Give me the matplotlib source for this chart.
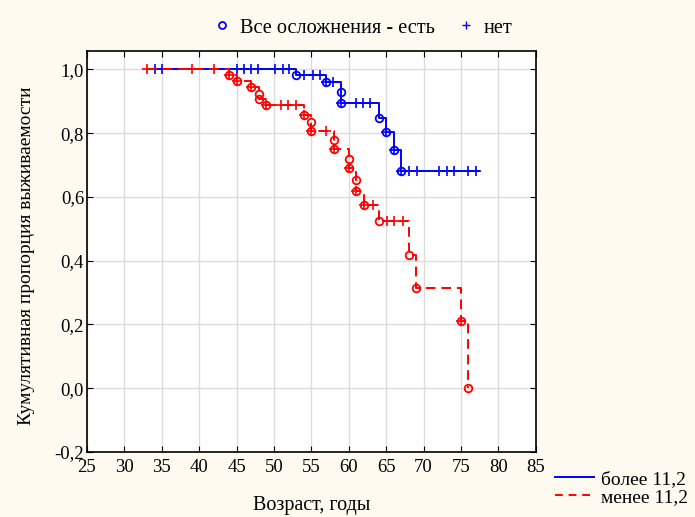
import matplotlib
matplotlib.use("Agg")
from matplotlib import pyplot as plt
from matplotlib.lines import Line2D
from matplotlib.ticker import FuncFormatter, MultipleLocator

# группа "более 11,2"
hi_start, hi_end = 34.1, 77.4
hi_event_t = [53, 57, 59, 59, 64, 65, 66, 67]
hi_event_s = [0.982, 0.961, 0.929, 0.895, 0.848, 0.804, 0.748, 0.682]
hi_cens_t = [34.1, 35.1, 45, 46, 46.9, 47.9, 50.1, 51.2, 52,
             54, 55.2, 56.2, 57, 57.9, 59, 61, 61.9, 62.8,
             65, 66, 67, 68.1, 69.1, 72.1, 73.1, 74.1, 76, 77]

# группа "менее 11,2"
lo_start, lo_end = 33, 76
lo_event_t = [44, 45, 47, 48, 48, 49, 54, 55, 55, 58, 58, 60, 60,
              61, 61, 62, 64, 68, 69, 75, 76]
lo_event_s = [0.982, 0.965, 0.946, 0.923, 0.906, 0.887, 0.858, 0.834, 0.807,
              0.779, 0.750, 0.719, 0.691, 0.654, 0.617, 0.575, 0.525,
              0.417, 0.315, 0.209, 0.0]
lo_cens_t = [33, 39, 42, 44, 45, 47, 49, 51, 51.9, 52.9, 54, 55, 57,
             58, 60, 61, 62, 63.2, 65.1, 66.1, 67.2, 75]


def surv_at(t, ev_t, ev_s):
    s = 1.0
    for et, es in zip(ev_t, ev_s):
        if et <= t:
            s = es
    return s


def draw_group(ax, start, end, ev_t, ev_s, cens_t, color, ls):
    xs = [start] + ev_t + [end]
    ys = [1.0] + ev_s + [ev_s[-1]]
    ax.plot(xs, ys, color=color, linestyle=ls, linewidth=1.4,
            drawstyle="steps-post", dashes=(5, 3) if ls == "--" else (None, None))
    ax.plot(ev_t, ev_s, "o", mfc="none", mec=color, ms=5.5, mew=1.3)
    cs = [surv_at(t, ev_t, ev_s) for t in cens_t]
    ax.plot(cens_t, cs, "+", color=color, ms=7.5, mew=1.2)


plt.rcParams["font.family"] = ["Liberation Serif", "DejaVu Serif"]
fig = plt.figure(figsize=(6.95, 5.17), dpi=100, facecolor="#fefaf0")
ax = fig.add_axes([0.125, 0.126, 0.646, 0.775])
ax.set_facecolor("white")

ax.grid(True, color="#dcdcdc", linewidth=1)
ax.set_axisbelow(True)

draw_group(ax, hi_start, hi_end, hi_event_t, hi_event_s, hi_cens_t, "#0000ff", "-")
draw_group(ax, lo_start, lo_end, lo_event_t, lo_event_s, lo_cens_t, "#ff0000", "--")

ax.set_xlim(25, 85)
ax.set_ylim(-0.2, 1.057)
ax.xaxis.set_major_locator(MultipleLocator(5))
ax.yaxis.set_major_locator(MultipleLocator(0.2))
ax.yaxis.set_major_formatter(FuncFormatter(lambda v, p: f"{v:.1f}".replace(".", ",")))
ax.tick_params(direction="in", top=True, right=True, length=4, labelsize=13.5)
ax.tick_params(axis="x", pad=5)
ax.tick_params(axis="y", pad=2)
for sp in ax.spines.values():
    sp.set_linewidth(1.2)

ax.set_xlabel("Возраст, годы", fontsize=14.5)
ax.set_ylabel("Кумулятивная пропорция выживаемости", fontsize=14)
ax.xaxis.set_label_coords(0.5, -0.11)
ax.yaxis.set_label_coords(-0.115, 0.49)

top_handles = [
    Line2D([], [], linestyle="none", marker="o", mfc="none", mec="#0000ff", ms=5, mew=1.3),
    Line2D([], [], linestyle="none", marker="+", color="#0000ff", ms=6, mew=1),
]
fig.legend(top_handles, ["Все осложнения - есть", "нет"], loc="center",
           bbox_to_anchor=(0.521, 0.946), ncol=2, frameon=False, fontsize=14.7,
           handlelength=1.0, handletextpad=0.4, columnspacing=1.0)

bot_handles = [
    Line2D([], [], color="#0000ff", linewidth=1.4),
    Line2D([], [], color="#ff0000", linewidth=1.4, linestyle="--", dashes=(4, 3)),
]
fig.legend(bot_handles, ["более 11,2", "менее 11,2"], loc="center left",
           bbox_to_anchor=(0.773, 0.056), frameon=False, fontsize=14,
           handlelength=2.0, handletextpad=0.4, labelspacing=0.0)

fig.savefig("out.png", dpi=100, facecolor=fig.get_facecolor())
